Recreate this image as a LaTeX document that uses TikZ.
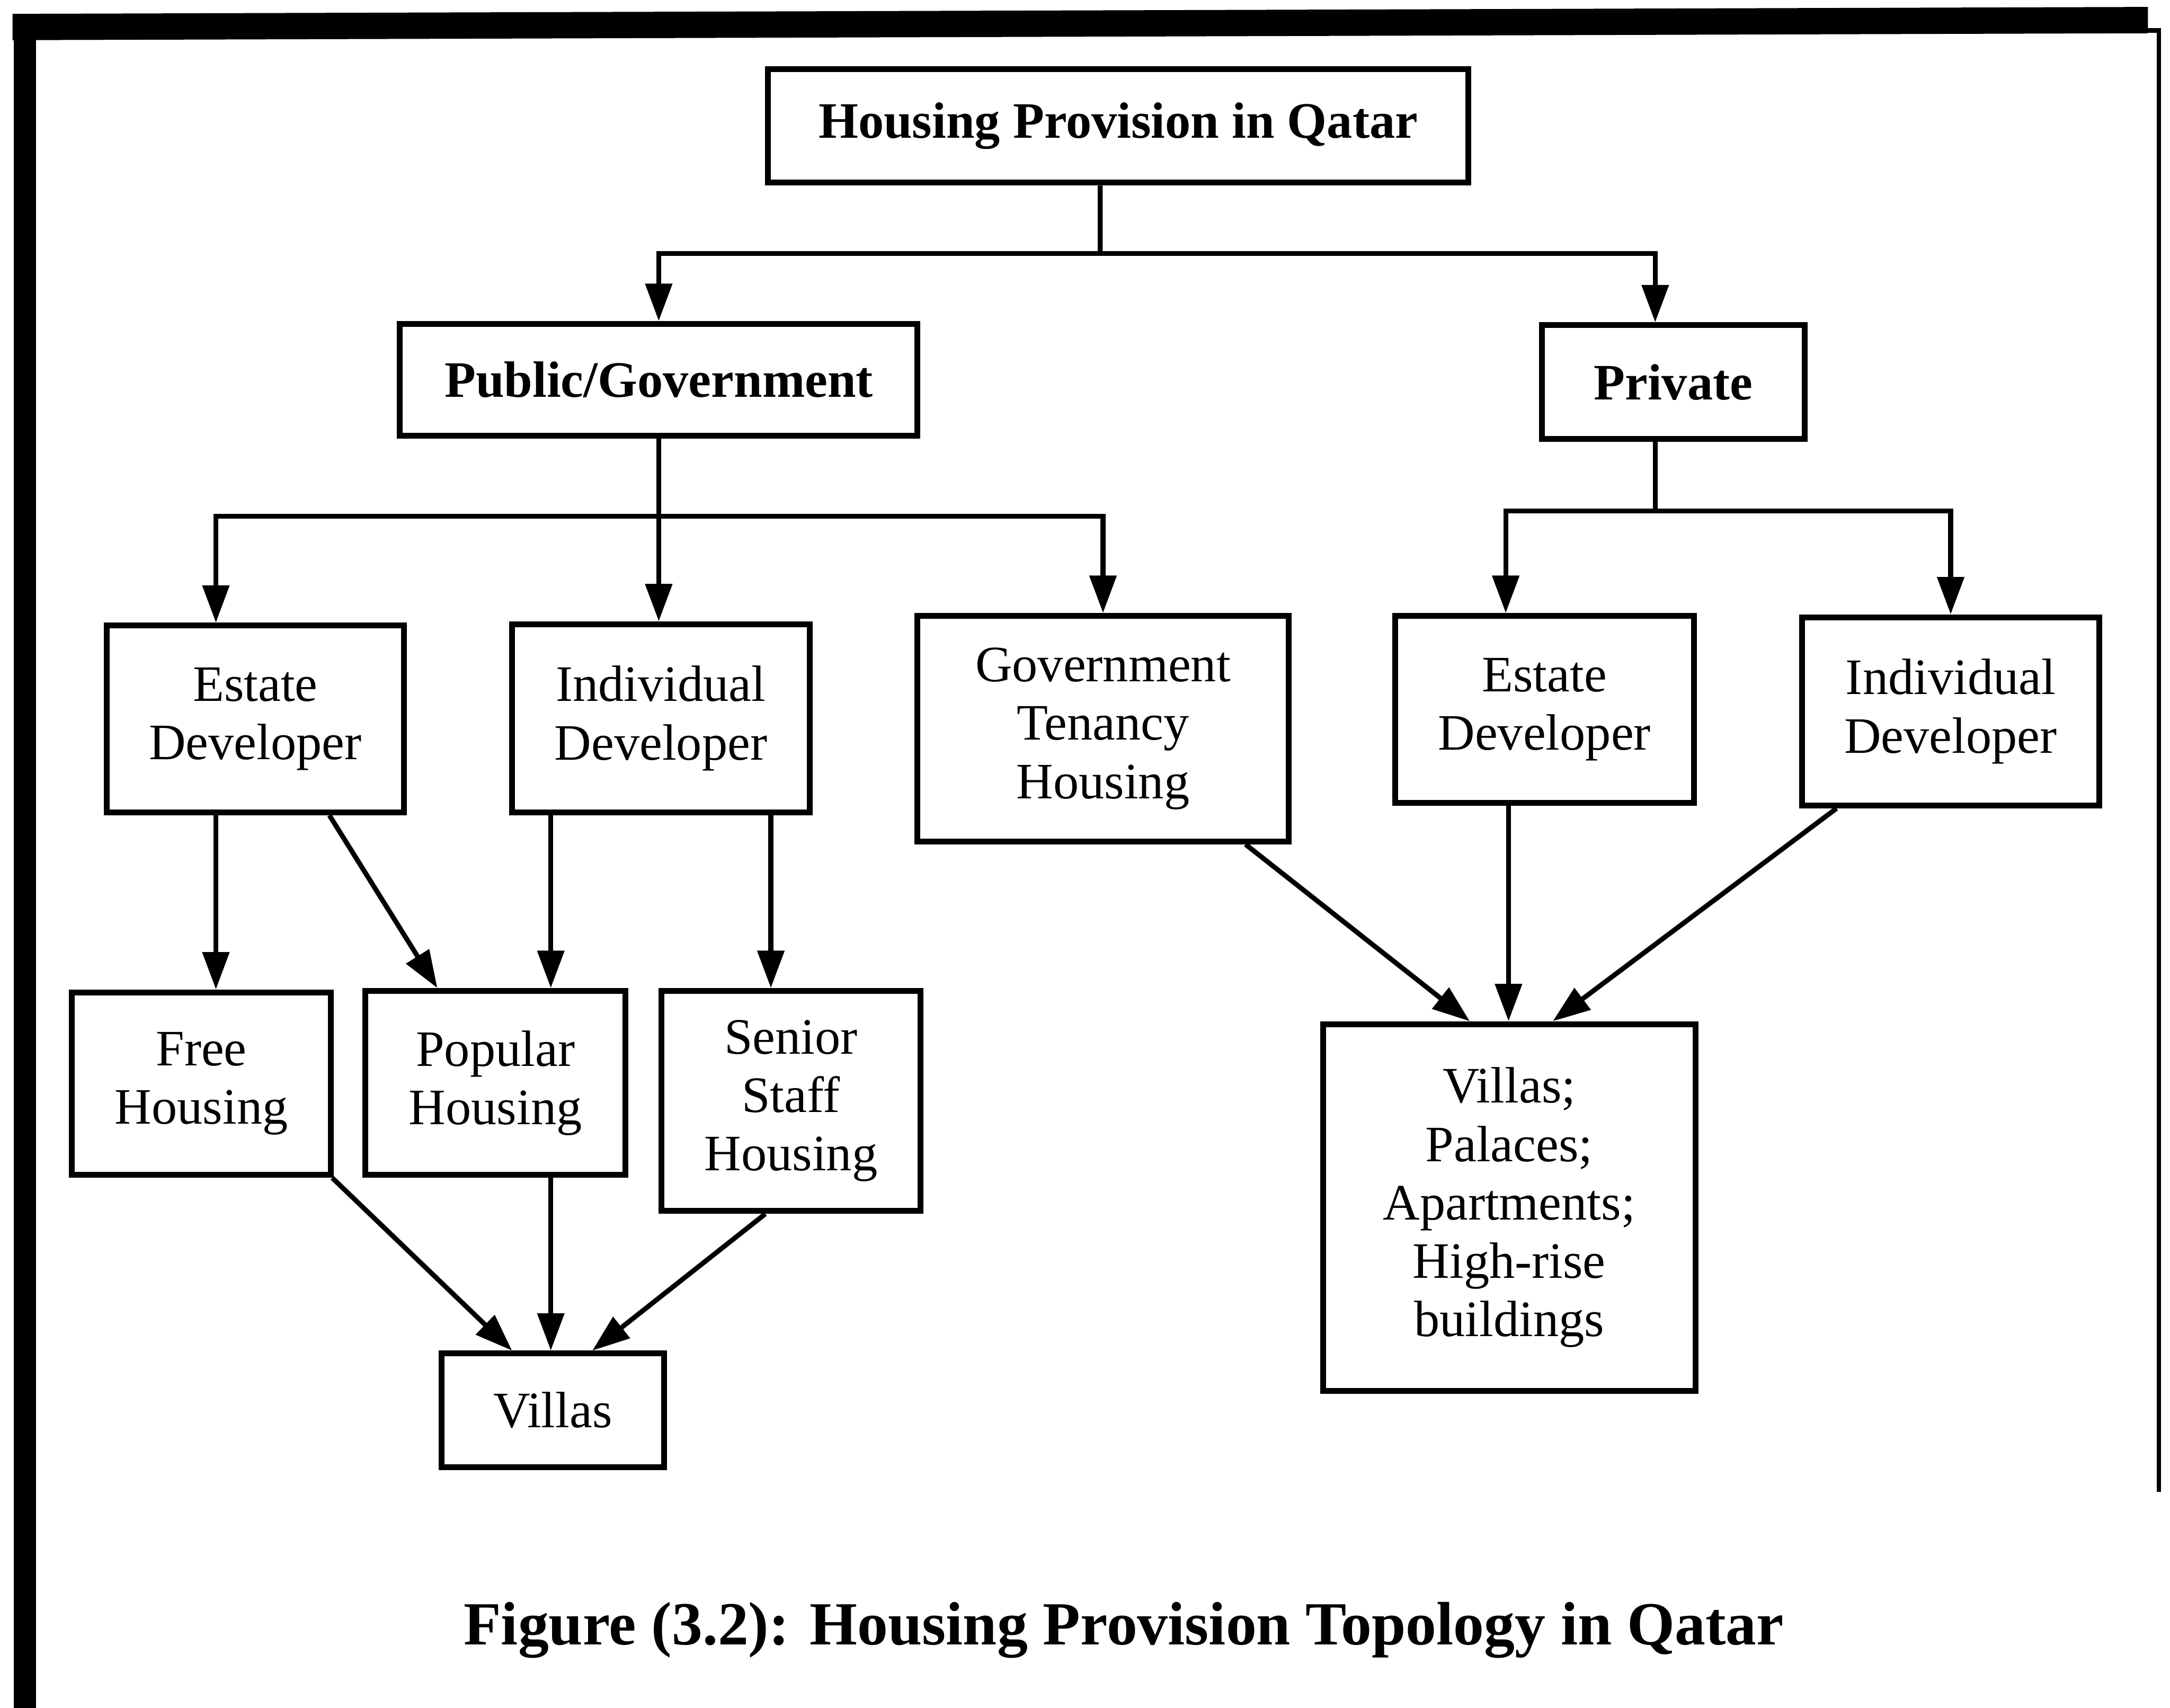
\documentclass[tikz,border=0pt]{standalone}
\usepackage{fontspec}
\setmainfont{Liberation Serif}
\usetikzlibrary{arrows.meta}

\begin{document}
\begin{tikzpicture}[line width=1pt,>={Triangle[length=2.7mm,width=1.9mm]}]
\tikzset{
block/.style = {draw, rectangle, line width=1.2pt, align=center, inner sep=2pt, font=\fontsize{10.5}{12}\selectfont},
headblock/.style = {block, font=\fontsize{10.5}{12}\selectfont\bfseries},
caption/.style = {font=\fontsize{12.6}{15}\selectfont\bfseries}
}

\useasboundingbox (0,0) rectangle (15.68,-12.34);
% page frame
\fill (0.09,-0.10) -- (15.52,-0.05) -- (15.52,-0.24) -- (0.09,-0.29) -- cycle;
\fill (0.10,-0.10) rectangle (0.26,-12.34);
\draw [line width=0.9pt] (15.50,-0.22) -- (15.60,-0.22) -- (15.60,-10.78);

\node [headblock, minimum width=5.06cm, minimum height=0.82cm] (provision) at (8.08,-0.91) {Housing Provision in Qatar};
\node [headblock, minimum width=3.74cm, minimum height=0.81cm] (public) at (4.76,-2.745) {Public/Government};
\node [headblock, minimum width=1.90cm, minimum height=0.82cm] (private) at (12.09,-2.76) {Private};

\node [block, minimum width=2.15cm, minimum height=1.35cm] (estatepub) at (1.845,-5.195) {Estate\\Developer};
\node [block, minimum width=2.15cm, minimum height=1.36cm] (indivpub) at (4.775,-5.19) {Individual\\Developer};
\node [block, minimum width=2.68cm, minimum height=1.63cm] (tenancy) at (7.97,-5.265) {Government\\Tenancy\\Housing};
\node [block, minimum width=2.16cm, minimum height=1.35cm] (estatepriv) at (11.16,-5.125) {Estate\\Developer};
\node [block, minimum width=2.15cm, minimum height=1.36cm] (indivpriv) at (14.095,-5.14) {Individual\\Developer};

\node [block, minimum width=1.87cm, minimum height=1.32cm] (free) at (1.455,-7.83) {Free\\Housing};
\node [block, minimum width=1.88cm, minimum height=1.33cm] (popular) at (3.58,-7.825) {Popular\\Housing};
\node [block, minimum width=1.87cm, minimum height=1.59cm] (senior) at (5.715,-7.955) {Senior\\Staff\\Housing};
\node [block, minimum width=1.61cm, minimum height=0.82cm] (villas) at (3.995,-10.19) {Villas};
\node [block, minimum width=2.69cm, minimum height=2.65cm] (buildings) at (10.905,-8.725) {Villas;\\Palaces;\\Apartments;\\High-rise\\buildings};

\node [caption] (title) at (8.12,-11.78) {Figure (3.2): Housing Provision Topology in Qatar};

% first split
\coordinate (topsplit) at (7.95,-1.83);
\draw ([xshift=-1.3mm]provision.south) -- (topsplit);
\draw [->] (topsplit) -| (public.north);
\draw [->] (topsplit) -| ([xshift=-1.3mm]private.north);

% public branch
\coordinate (pubsplit) at ([yshift=-5.6mm]public.south);
\draw (public) -- (pubsplit);
\draw [->] (pubsplit) -| ([xshift=-2.85mm]estatepub.north);
\draw [->] (pubsplit) -- (pubsplit |- indivpub.north);
\draw [->] (pubsplit) -| (tenancy.north);

% private branch
\coordinate (privsplit) at ([xshift=-1.3mm,yshift=-5.0mm]private.south);
\draw ([xshift=-1.3mm]private.south) -- (privsplit);
\draw [->] (privsplit) -| ([xshift=-2.8mm]estatepriv.north);
\draw [->] (privsplit) -| (indivpriv.north);

\draw [->] ([xshift=-2.85mm]estatepub.south) -- ([xshift=-2.85mm]estatepub.south |- free.north);
\draw [->] ([xshift=5.35mm]estatepub.south) -- ([xshift=-4.2mm]popular.north);
\draw [->] ([xshift=-7.95mm]indivpub.south) -- ([xshift=-7.95mm]indivpub.south |- popular.north);
\draw [->] ([xshift=7.95mm]indivpub.south) -- ([xshift=7.95mm]indivpub.south |- senior.north);

\draw [->] ([xshift=-0.1mm]free.south east) -- ([xshift=-2.95mm]villas.north);
\draw [->] ([xshift=4mm]popular.south) -- ([xshift=4mm]popular.south |- villas.north);
\draw [->] ([xshift=-1.85mm]senior.south) -- ([xshift=2.85mm]villas.north);

\draw [->] ([xshift=10.3mm]tenancy.south) -- ([xshift=-2.85mm]buildings.north);
\draw [->] ([xshift=-2.6mm]estatepriv.south) -- ([xshift=-2.6mm]estatepriv.south |- buildings.north);
\draw [->] ([xshift=-8.25mm]indivpriv.south) -- ([xshift=3.15mm]buildings.north);
\end{tikzpicture}
\end{document}
